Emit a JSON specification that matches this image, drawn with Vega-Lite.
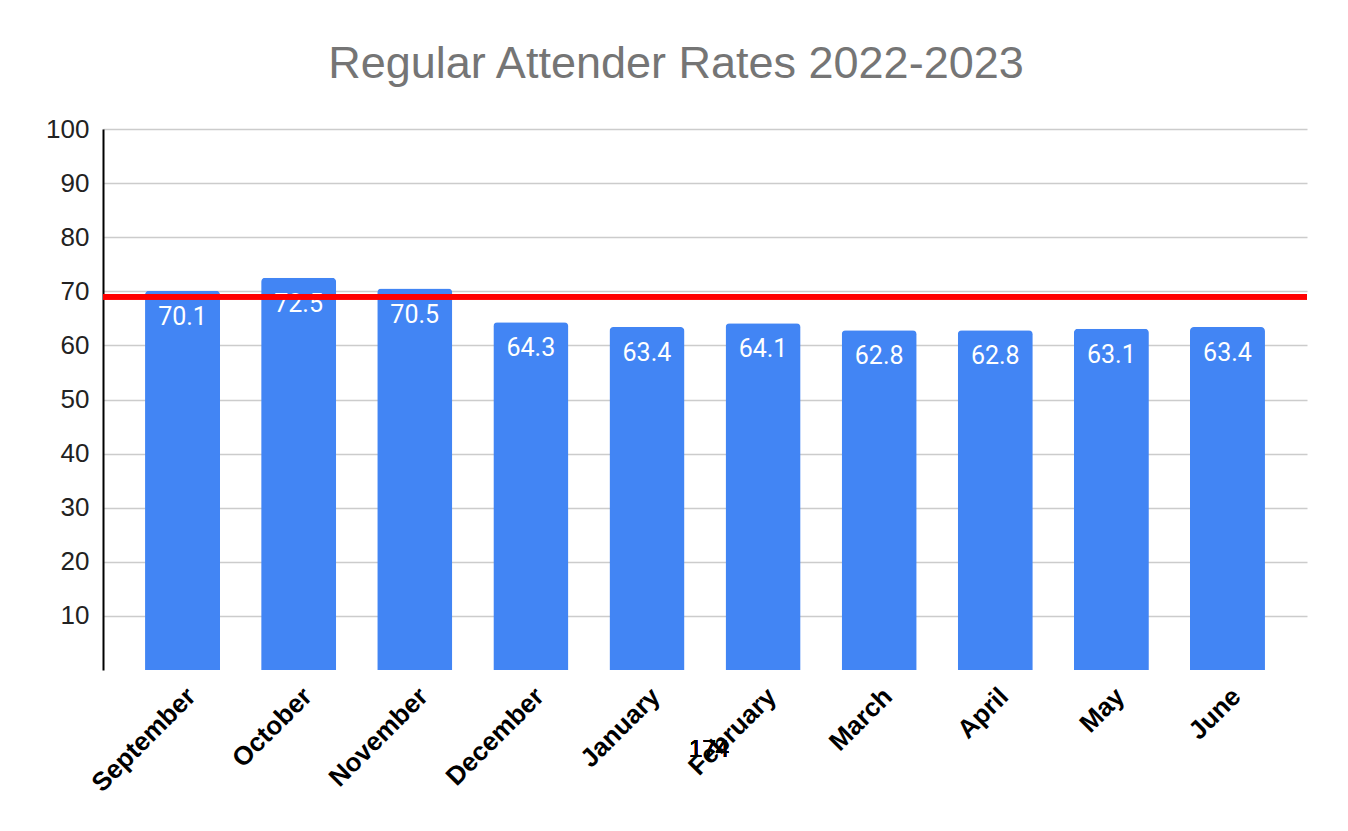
{
  "$schema": "https://vega.github.io/schema/vega-lite/v6.json",
  "width": 1204,
  "height": 541,
  "autosize": {"type": "none"},
  "padding": {"left": 103, "top": 129, "right": 41, "bottom": 161},
  "background": "white",
  "title": {
    "text": "Regular Attender Rates 2022-2023",
    "font": "Liberation Sans",
    "fontSize": 45,
    "fontWeight": "normal",
    "color": "#757575",
    "anchor": "middle",
    "dx": -29,
    "offset": 29
  },
  "data": {
    "values": [
      {"month": "September", "rate": 70.1},
      {"month": "October", "rate": 72.5},
      {"month": "November", "rate": 70.5},
      {"month": "December", "rate": 64.3},
      {"month": "January", "rate": 63.4},
      {"month": "February", "rate": 64.1},
      {"month": "March", "rate": 62.8},
      {"month": "April", "rate": 62.8},
      {"month": "May", "rate": 63.1},
      {"month": "June", "rate": 63.4}
    ]
  },
  "config": {
    "view": {"stroke": null},
    "font": "Liberation Sans"
  },
  "encoding": {
    "x": {
      "field": "month",
      "type": "nominal",
      "sort": null,
      "scale": {"paddingInner": 0.354, "paddingOuter": 0.362},
      "axis": {
        "title": null,
        "labelAngle": -45,
        "labelAlign": "right",
        "labelBaseline": "middle",
        "labelFont": "Liberation Sans",
        "labelFontWeight": "bold",
        "labelFontSize": 26,
        "labelColor": "black",
        "labelPadding": 22,
        "labelOffset": 9,
        "ticks": false,
        "domain": false,
        "grid": false
      }
    },
    "y": {
      "field": "rate",
      "type": "quantitative",
      "scale": {"domain": [0, 100]},
      "axis": {
        "title": null,
        "values": [10, 20, 30, 40, 50, 60, 70, 80, 90, 100],
        "labelFont": "Liberation Sans",
        "labelFontSize": 26,
        "labelColor": "#222222",
        "labelPadding": 14,
        "ticks": false,
        "domain": true,
        "domainColor": "black",
        "domainWidth": 2,
        "grid": true,
        "gridColor": "#cccccc",
        "gridWidth": 1.5
      }
    }
  },
  "layer": [
    {
      "mark": {"type": "bar", "color": "#4285F4", "cornerRadiusTopLeft": 4, "cornerRadiusTopRight": 4}
    },
    {
      "mark": {"type": "text", "color": "white", "font": "Roboto", "fontSize": 25, "baseline": "top", "dy": 14},
      "encoding": {"text": {"field": "rate", "type": "quantitative", "format": ".1f"}}
    },
    {
      "mark": {"type": "rule", "color": "#ff0000", "strokeWidth": 5},
      "encoding": {"y": {"datum": 69}, "x": null}
    },
    {
      "mark": {"type": "text", "color": "black", "font": "Liberation Sans", "fontWeight": "normal", "fontSize": 24, "dx": -54},
      "encoding": {"x": {"datum": "February"}, "y": {"datum": -14.7}, "text": {"value": "174"}}
    }
  ]
}
